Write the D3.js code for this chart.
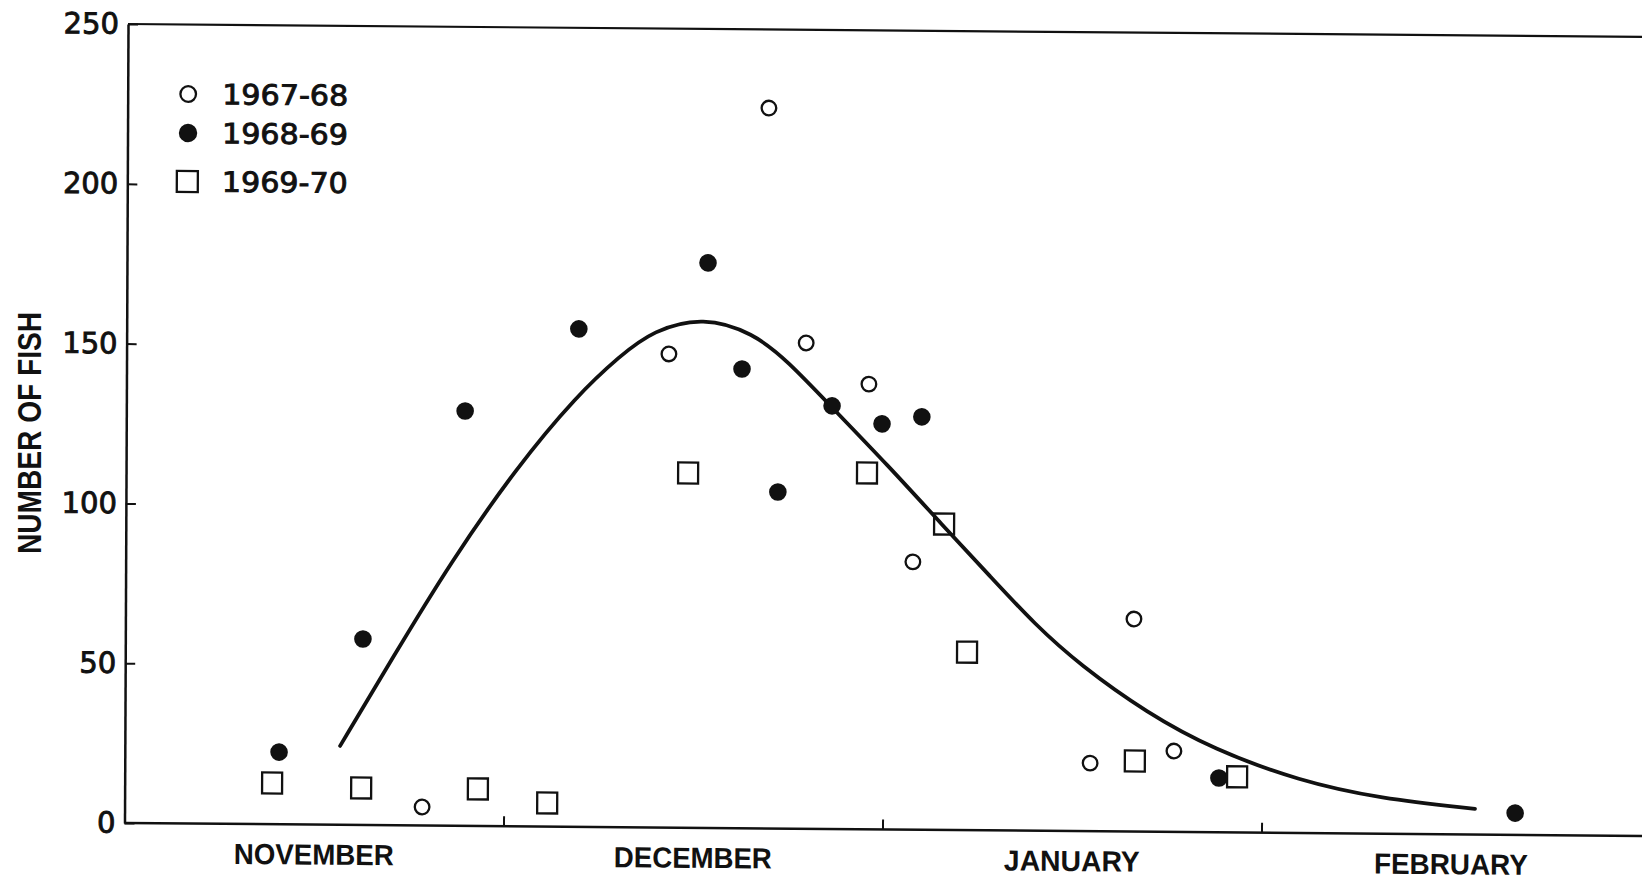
<!DOCTYPE html>
<html>
<head>
<meta charset="utf-8">
<script src="https://cdn.jsdelivr.net/npm/d3@7"></script>
<style>
  html, body { margin: 0; padding: 0; background: #fff; }
  svg { display: block; }
  text { font-family: "Liberation Sans", Arial, sans-serif; fill: #111; }
</style>
</head>
<body>
<svg id="chart" width="1642" height="882"></svg>
<script>
// ---- data (x in months after 1 November; y = number of fish) ----
const months = ["NOVEMBER", "DECEMBER", "JANUARY", "FEBRUARY"];
const yTicks = [0, 50, 100, 150, 200, 250];
const seriesNames = ["1967-68", "1968-69", "1969-70"];

const s1967x = [0.785, 1.431, 1.692, 1.793, 1.959, 2.077, 2.547, 2.661, 2.768];
const s1967y = [5.8, 148.2, 225.4, 152.0, 139.3, 83.8, 21.3, 66.5, 25.3];

const s1968x = [0.407, 0.627, 0.894, 1.193, 1.533, 1.624, 1.720, 1.862, 1.994, 2.099, 2.887, 3.669];
const s1968y = [22.6, 58.2, 129.8, 155.8, 176.8, 143.7, 105.3, 132.4, 126.9, 129.2, 17.0, 6.8];

const s1969x = [0.389, 0.624, 0.932, 1.115, 1.483, 1.955, 2.159, 2.221, 2.665, 2.935];
const s1969y = [12.9, 11.6, 11.6, 7.4, 111.0, 111.5, 95.7, 55.7, 22.1, 17.4];

const curveX = [0.568, 0.707, 0.856, 1.031, 1.189, 1.302, 1.389, 1.521, 1.653, 1.743, 1.865, 2.008, 2.156, 2.281, 2.400, 2.519, 2.697, 2.871, 3.101, 3.312, 3.563];
const curveY = [24.7, 52.7, 82.2, 112.4, 135.0, 147.5, 155.5, 160.0, 155.0, 146.5, 131.5, 114.2, 95.2, 79.5, 64.5, 52.0, 37.1, 26.0, 16.2, 11.0, 8.0];

// ---- layout ----
const X0 = 124.5, Y0 = 823;
const x = d3.scaleLinear().domain([0, 4]).range([X0, X0 + 4 * 379]);
const y = d3.scaleLinear().domain([0, 250]).range([Y0, 24]);

const svg = d3.select("#chart");
svg.append("rect").attr("width", 1642).attr("height", 882).attr("fill", "#fff");

// slight skew of the scanned page
const g = svg.append("g")
  .attr("transform", `translate(${X0},${Y0}) matrix(1,0.0085,-0.0044,1,0,0) translate(${-X0},${-Y0})`);

// Y axis
const yAxis = d3.axisLeft(y).tickValues(yTicks).tickSizeInner(-10).tickSizeOuter(0).tickPadding(9);
const ya = g.append("g").attr("transform", `translate(${X0},0)`).call(yAxis);
ya.select(".domain").attr("stroke", "#111").attr("stroke-width", 2.5);
ya.selectAll(".tick line").attr("stroke", "#111").attr("stroke-width", 2);
ya.selectAll(".tick text")
  .style("font-family", "'DejaVu Sans', sans-serif")
  .style("font-size", "29px")
  .attr("fill", "#111").attr("stroke", "#111").attr("stroke-width", 0.9);

// X axis (month boundaries)
const xAxis = d3.axisBottom(x).tickValues([1, 2, 3]).tickSizeInner(-10).tickSizeOuter(0).tickFormat("");
const xa = g.append("g").attr("transform", `translate(0,${Y0})`).call(xAxis);
xa.select(".domain").remove();
xa.selectAll(".tick line").attr("stroke", "#111").attr("stroke-width", 2);
g.append("line").attr("x1", X0).attr("x2", 1680).attr("y1", Y0).attr("y2", Y0)
  .attr("stroke", "#111").attr("stroke-width", 2.5);
// top border
g.append("line").attr("x1", X0).attr("x2", 1680).attr("y1", y(250)).attr("y2", y(250))
  .attr("stroke", "#111").attr("stroke-width", 2.2);

// month labels (condensed by horizontal scaling)
const monthWidths = [160, 158, 136, 154];
g.selectAll(".month").data(months).enter().append("text")
  .attr("class", "month")
  .attr("text-anchor", "middle")
  .style("font-size", "29px").style("font-weight", "bold")
  .text(d => d)
  .each(function(d, i) {
    const natural = this.getComputedTextLength();
    const sx = monthWidths[i] / natural;
    d3.select(this).attr("transform", `translate(${x(i + 0.5)},${Y0 + 40}) scale(${sx},1)`);
  });

// Y label
svg.append("text")
  .attr("transform", "translate(41,433) rotate(-90)")
  .attr("text-anchor", "middle")
  .attr("textLength", 242)
  .attr("lengthAdjust", "spacingAndGlyphs")
  .style("font-size", "33px").style("font-weight", "bold")
  .text("NUMBER OF FISH");

// fitted curve
const line = d3.line().x(d => x(d[0])).y(d => y(d[1])).curve(d3.curveBasis);
g.append("path").datum(d3.zip(curveX, curveY)).attr("d", line)
  .attr("fill", "none").attr("stroke", "#111").attr("stroke-width", 3.8).attr("stroke-linecap", "round");

// points
g.selectAll(".p67").data(d3.zip(s1967x, s1967y)).enter().append("circle")
  .attr("cx", d => x(d[0])).attr("cy", d => y(d[1])).attr("r", 7.3)
  .attr("fill", "#fff").attr("stroke", "#111").attr("stroke-width", 2.3);
g.selectAll(".p68").data(d3.zip(s1968x, s1968y)).enter().append("circle")
  .attr("cx", d => x(d[0])).attr("cy", d => y(d[1])).attr("r", 8.8)
  .attr("fill", "#111");
g.selectAll(".p69").data(d3.zip(s1969x, s1969y)).enter().append("rect")
  .attr("x", d => x(d[0]) - 10).attr("y", d => y(d[1]) - 10.5)
  .attr("width", 20).attr("height", 21)
  .attr("fill", "none").attr("stroke", "#111").attr("stroke-width", 2.3);

// legend
const legY = [93.5, 132.5, 181];
const lg = g.append("g");
lg.append("circle").attr("cx", 185).attr("cy", legY[0]).attr("r", 7.8)
  .attr("fill", "#fff").attr("stroke", "#111").attr("stroke-width", 2.3);
lg.append("circle").attr("cx", 185).attr("cy", legY[1]).attr("r", 9.2).attr("fill", "#111");
lg.append("rect").attr("x", 174).attr("y", legY[2] - 10.5).attr("width", 21).attr("height", 21)
  .attr("fill", "none").attr("stroke", "#111").attr("stroke-width", 2.3);
lg.selectAll("text").data(seriesNames).enter().append("text")
  .attr("x", 219).attr("y", (d, i) => legY[i] + 10)
  .attr("textLength", 126).attr("lengthAdjust", "spacingAndGlyphs")
  .style("font-family", "'DejaVu Sans', sans-serif")
  .style("font-size", "28px")
  .attr("stroke", "#111").attr("stroke-width", 0.9)
  .text(d => d);
</script>
</body>
</html>
